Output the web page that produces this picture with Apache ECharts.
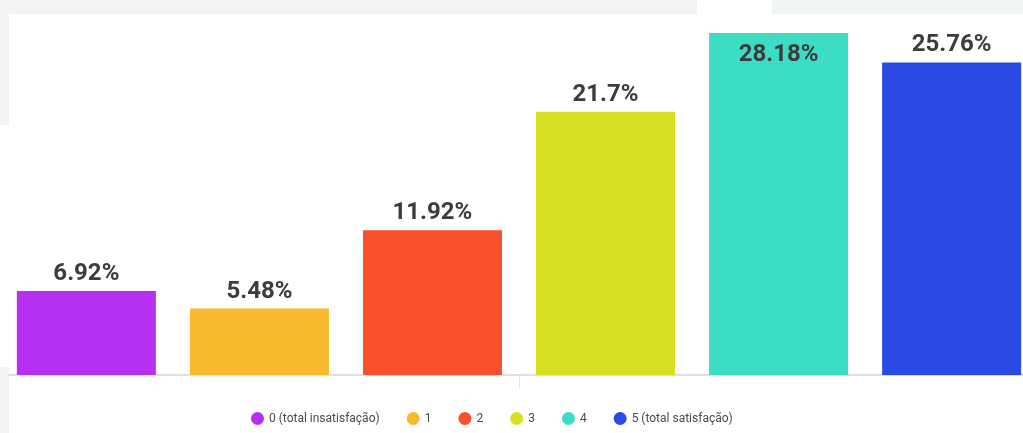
<!DOCTYPE html>
<html>
<head>
<meta charset="utf-8">
<script src="https://cdn.jsdelivr.net/npm/echarts@6/dist/echarts.min.js"></script>
<style>
html,body{margin:0;padding:0;background:#fff;overflow:hidden;}
#c{width:1029px;height:433px;}
</style>
</head>
<body>
<div id="c"></div>
<script>
var categories = [''];
var seriesNames = ['0 (total insatisfação)', '1', '2', '3', '4', '5 (total satisfação)'];
var seriesValues = [6.92, 5.48, 11.92, 21.7, 28.18, 25.76];
var seriesColors = ['#b72ff3', '#f8b92c', '#f8502c', '#d6df22', '#3ddcc4', '#2b4ae5'];

var chart = echarts.init(document.getElementById('c'), null, {renderer: 'canvas'});

var series = seriesNames.map(function (name, i) {
  var inside = i === 4;
  return {
    name: name,
    type: 'bar',
    data: [seriesValues[i]],
    barWidth: 139,
    barGap: '24.5%',
    itemStyle: { color: seriesColors[i] },
    label: {
      show: true,
      position: inside ? 'insideTop' : 'top',
      distance: inside ? 10 : 5,
      formatter: '{c}%',
      fontFamily: 'Roboto',
      fontWeight: 'bold',
      fontSize: 24,
      color: '#3c3c3c'
    }
  };
});

chart.setOption({
  backgroundColor: '#ffffff',
  animation: false,
  graphic: [
    { type: 'rect', left: 0, top: 0, shape: { width: 697, height: 14 }, style: { fill: '#f2f3f3' }, z: -10 },
    { type: 'rect', left: 772, top: 0, shape: { width: 257, height: 14 }, style: { fill: '#f1f6f3' }, z: -10 },
    { type: 'rect', left: 0, top: 0, shape: { width: 9, height: 125 }, style: { fill: '#f2f3f3' }, z: -10 },
    { type: 'rect', left: 0, top: 367, shape: { width: 9, height: 66 }, style: { fill: '#f2f3f3' }, z: -10 }
  ],
  legend: {
    data: seriesNames,
    top: 412,
    left: 251,
    padding: 0,
    icon: 'circle',
    itemWidth: 13,
    itemHeight: 13,
    itemGap: 27,
    textStyle: { fontFamily: 'Roboto', fontSize: 12, color: '#4a4a4a' }
  },
  grid: { left: 9, right: 0, top: 11, bottom: 58, containLabel: false },
  xAxis: {
    type: 'category',
    data: categories,
    axisLine: { show: true, lineStyle: { color: '#e0e0e0', width: 2 } },
    axisTick: { show: true, alignWithLabel: true, length: 13, lineStyle: { color: '#e6e6e6', width: 1 } },
    axisLabel: { show: false }
  },
  yAxis: {
    type: 'value',
    min: 0,
    max: 30,
    show: false,
    splitLine: { show: false }
  },
  series: series
});
</script>
</body>
</html>
